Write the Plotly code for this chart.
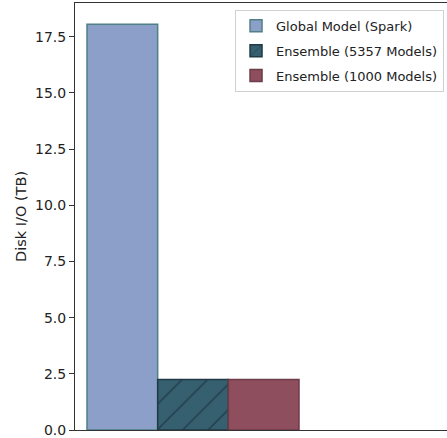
import plotly.graph_objects as go

category = ["Disk I/O"]
series_names = ["Global Model (Spark)", "Ensemble (5357 Models)", "Ensemble (1000 Models)"]
series_values = [[18.05], [2.25], [2.25]]
y_ticks = [0, 2.5, 5.0, 7.5, 10.0, 12.5, 15.0, 17.5]

fills = ["#8c9fc9", "#365f70", "#8e4e5e"]
edges = ["#4f8085", "#1f3b46", "#6e3b48"]
patterns = ["", "/", ""]

FONT = "DejaVu Sans"

fig = go.Figure()
for i, (name, vals) in enumerate(zip(series_names, series_values)):
    fig.add_trace(go.Bar(
        x=category, y=vals, name=name, legendgroup=f"g{i}",
        marker=dict(
            color=fills[i],
            line=dict(color=edges[i], width=1.5),
            pattern=dict(shape=patterns[i], fgcolor="#132830", size=18, solidity=0.1,
                         fillmode="overlay"),
        ),
    ))

fig.update_layout(
    width=447, height=438,
    margin=dict(l=75, r=0, t=3, b=8, autoexpand=False),
    paper_bgcolor="white", plot_bgcolor="white",
    barmode="group", bargap=0.2, bargroupgap=0,
    font=dict(family=FONT, color="#222222", size=14),
    legend=dict(
        x=0.992, xanchor="right", y=0.984, yanchor="top",
        bgcolor="white", bordercolor="#d0d0d0", borderwidth=1,
        font=dict(family=FONT, size=13, color="#222222"),
        tracegroupgap=5, traceorder="grouped",
    ),
    showlegend=True,
)
fig.update_xaxes(
    range=[-0.4453, 0.9585], showticklabels=False, ticks="",
    showline=True, linecolor="#333333", linewidth=1, mirror=True,
    showgrid=False, zeroline=False, automargin=False,
)
fig.update_yaxes(
    range=[0, 19.0], tickvals=y_ticks, tickformat=".1f",
    ticks="outside", ticklen=5, tickcolor="#333333", tickwidth=1,
    showline=True, linecolor="#333333", linewidth=1, mirror=False,
    showgrid=False, zeroline=False, automargin=False,
    tickfont=dict(family=FONT, size=14, color="#222222"),
    title=dict(text="Disk I/O (TB)", font=dict(family=FONT, size=14.5, color="#222222"), standoff=4),
)

fig.write_html("out.html", config={"displayModeBar": False},
               post_script="document.body.style.margin='0';document.body.style.overflow='hidden';")
